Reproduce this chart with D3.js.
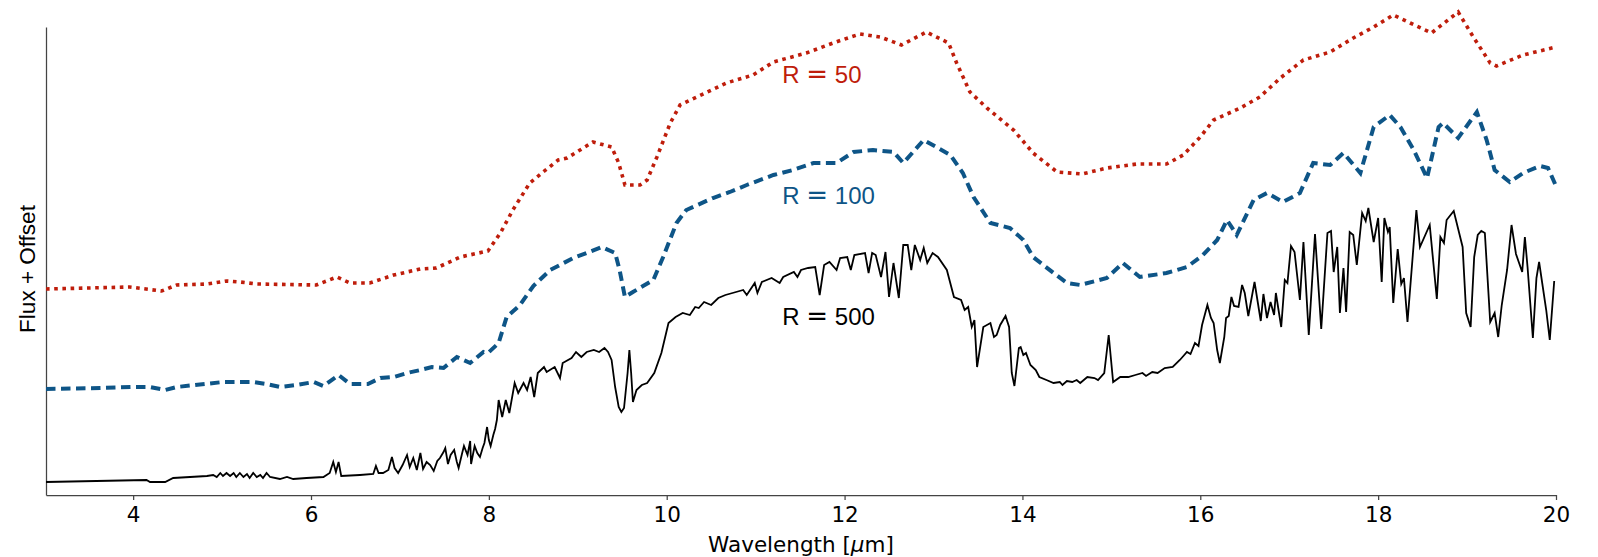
<!DOCTYPE html>
<html>
<head>
<meta charset="utf-8">
<script src="https://cdn.jsdelivr.net/npm/d3@7"></script>
<style>
  html, body { margin: 0; padding: 0; background: #ffffff; }
  svg { display: block; }
</style>
</head>
<body>
<svg id="chart" width="1598" height="557"></svg>
<script>
// ---------------- DATA ----------------
const xTicks = [4, 6, 8, 10, 12, 14, 16, 18, 20];
const xDomain = [3.02, 20];
const yDomain = [0, 4.68];

// R = 50 (red, dotted)
const wavelengthR50 = [3.02,3.96,4.32,4.49,4.83,5.05,5.20,5.39,6.06,6.29,6.44,6.66,6.93,7.23,7.41,7.68,7.99,8.13,8.27,8.46,8.61,8.78,8.88,9.17,9.38,9.46,9.53,9.70,9.78,9.89,10.04,10.15,10.34,10.67,10.97,11.20,11.57,11.87,12.17,12.40,12.64,12.92,13.17,13.26,13.41,13.60,13.90,14.12,14.39,14.67,14.95,15.29,15.62,15.81,16.00,16.15,16.45,16.67,16.90,17.16,17.46,17.72,17.95,18.17,18.36,18.60,18.90,19.07,19.26,19.33,19.63,20.00];
const fluxR50 = [2.06,2.08,2.04,2.10,2.11,2.14,2.13,2.11,2.10,2.18,2.12,2.12,2.20,2.26,2.27,2.38,2.44,2.62,2.85,3.12,3.23,3.35,3.37,3.53,3.48,3.32,3.10,3.10,3.15,3.38,3.72,3.90,3.98,4.12,4.20,4.33,4.42,4.52,4.61,4.58,4.50,4.63,4.52,4.32,4.03,3.87,3.65,3.42,3.23,3.21,3.27,3.31,3.31,3.40,3.58,3.75,3.87,3.98,4.17,4.35,4.43,4.57,4.68,4.80,4.72,4.62,4.83,4.58,4.32,4.29,4.40,4.48];

// R = 100 (blue, dashed)
const wavelengthR100 = [3.02,3.63,4.00,4.19,4.36,4.49,5.01,5.35,5.50,5.65,5.84,6.03,6.14,6.31,6.44,6.64,6.78,6.93,7.08,7.23,7.36,7.49,7.64,7.79,7.94,7.99,8.11,8.20,8.35,8.50,8.69,8.95,9.10,9.27,9.42,9.47,9.53,9.62,9.85,9.96,10.11,10.22,10.52,10.71,10.90,11.20,11.42,11.65,11.91,12.10,12.32,12.55,12.66,12.89,13.19,13.33,13.45,13.64,13.86,14.01,14.12,14.35,14.50,14.65,14.95,15.13,15.32,15.62,15.85,16.03,16.19,16.30,16.41,16.60,16.75,16.93,17.12,17.27,17.46,17.61,17.80,17.95,18.13,18.25,18.40,18.55,18.68,18.73,18.90,19.11,19.22,19.31,19.48,19.63,19.82,19.91,20.00];
const fluxR100 = [1.06,1.07,1.08,1.08,1.05,1.08,1.13,1.13,1.11,1.08,1.10,1.13,1.09,1.20,1.11,1.11,1.17,1.18,1.22,1.25,1.28,1.27,1.38,1.32,1.43,1.42,1.52,1.78,1.90,2.09,2.25,2.37,2.42,2.48,2.42,2.25,1.98,2.03,2.15,2.38,2.72,2.85,2.97,3.03,3.10,3.20,3.25,3.32,3.32,3.43,3.45,3.43,3.32,3.55,3.40,3.22,2.98,2.72,2.67,2.55,2.38,2.22,2.12,2.10,2.17,2.32,2.18,2.22,2.28,2.40,2.55,2.75,2.60,2.95,3.02,2.93,3.02,3.32,3.30,3.42,3.22,3.68,3.80,3.68,3.45,3.17,3.68,3.72,3.57,3.83,3.55,3.25,3.13,3.22,3.29,3.27,3.09];

// R = 500 (black, solid): [wavelength, flux]
const spectrumR500 = [
[3.02,.13],[4.15,.15],[4.19,.13],[4.36,.13],[4.45,.17],[4.83,.19],[4.90,.20],[4.94,.18],[4.98,.22],[5.01,.19],
[5.05,.22],[5.09,.19],[5.13,.22],[5.16,.18],[5.20,.22],[5.24,.18],[5.28,.21],[5.31,.17],[5.35,.22],[5.39,.18],
[5.43,.20],[5.46,.17],[5.50,.22],[5.54,.18],[5.65,.16],[5.73,.18],[5.80,.16],[5.95,.17],[6.14,.18],[6.21,.22],
[6.25,.33],[6.28,.23],[6.31,.33],[6.34,.19],[6.55,.20],[6.70,.21],[6.73,.29],[6.76,.22],[6.81,.22],[6.87,.25],
[6.91,.38],[6.94,.27],[6.98,.22],[7.03,.30],[7.08,.40],[7.11,.28],[7.15,.37],[7.19,.25],[7.23,.42],[7.26,.26],
[7.30,.33],[7.34,.30],[7.38,.24],[7.42,.34],[7.45,.37],[7.49,.43],[7.51,.47],[7.54,.31],[7.57,.40],[7.61,.45],
[7.64,.33],[7.66,.27],[7.70,.42],[7.72,.49],[7.76,.40],[7.79,.54],[7.80,.31],[7.84,.49],[7.87,.42],[7.90,.38],
[7.93,.47],[7.95,.52],[7.98,.68],[8.00,.55],[8.02,.49],[8.05,.60],[8.07,.66],
[8.09,.75],[8.11,.95],[8.15,.78],[8.19,.95],[8.23,.82],[8.29,1.12],[8.33,1.02],[8.39,1.12],
[8.43,1.05],[8.47,1.18],[8.51,.98],[8.55,1.22],[8.62,1.28],[8.65,1.23],[8.74,1.28],[8.80,1.17],[8.83,1.32],[8.93,1.37],
[8.98,1.43],[9.04,1.38],[9.10,1.43],[9.18,1.45],[9.24,1.43],[9.30,1.47],[9.34,1.43],[9.38,1.35],[9.42,1.08],[9.46,.88],
[9.49,.83],[9.52,.87],[9.56,1.22],[9.58,1.45],[9.60,1.22],[9.62,.93],[9.66,1.05],[9.72,1.10],[9.78,1.12],[9.86,1.22],
[9.94,1.42],[10.02,1.72],[10.10,1.78],[10.18,1.82],[10.26,1.80],[10.32,1.88],[10.36,1.87],[10.42,1.93],[10.50,1.90],[10.58,1.97],
[10.66,2.00],[10.78,2.03],[10.86,2.05],[10.90,2.00],[10.99,2.12],[11.02,2.02],[11.07,2.13],[11.18,2.17],[11.27,2.12],[11.31,2.18],
[11.43,2.23],[11.47,2.18],[11.51,2.25],[11.59,2.27],[11.67,2.28],[11.72,2.00],[11.77,2.30],[11.83,2.33],[11.91,2.25],[11.95,2.37],
[12.03,2.38],[12.07,2.25],[12.11,2.40],[12.23,2.42],[12.27,2.22],[12.31,2.42],[12.35,2.40],[12.41,2.18],[12.46,2.43],[12.50,1.98],
[12.55,2.32],[12.61,1.97],[12.66,2.50],[12.71,2.50],[12.75,2.25],[12.79,2.50],[12.85,2.35],[12.89,2.47],[12.93,2.32],[12.99,2.42],
[13.05,2.38],[13.15,2.25],[13.23,1.98],[13.31,1.95],[13.35,1.85],[13.39,1.88],[13.43,1.68],[13.46,1.75],[13.49,1.28],[13.56,1.68],
[13.64,1.72],[13.68,1.58],[13.71,1.60],[13.75,1.70],[13.81,1.79],[13.85,1.68],[13.88,1.22],[13.91,1.09],[13.96,1.47],[13.98,1.48],
[14.01,1.40],[14.04,1.42],[14.09,1.30],[14.15,1.25],[14.19,1.18],[14.27,1.15],[14.35,1.12],[14.42,1.13],[14.45,1.10],[14.50,1.14],
[14.56,1.13],[14.61,1.15],[14.65,1.12],[14.73,1.18],[14.81,1.17],[14.85,1.15],[14.92,1.22],[14.97,1.60],[15.02,1.13],[15.10,1.18],
[15.19,1.18],[15.27,1.20],[15.35,1.22],[15.39,1.19],[15.46,1.23],[15.52,1.22],[15.60,1.27],[15.69,1.28],[15.77,1.35],[15.81,1.39],
[15.85,1.43],[15.89,1.41],[15.94,1.52],[15.98,1.49],[16.02,1.70],[16.08,1.90],[16.12,1.77],[16.15,1.72],[16.19,1.45],[16.22,1.32],
[16.27,1.58],[16.29,1.77],[16.32,1.79],[16.35,1.98],[16.38,1.89],[16.43,1.88],[16.47,2.10],[16.50,2.02],[16.54,1.79],[16.61,2.13],
[16.68,1.74],[16.71,2.01],[16.75,1.77],[16.79,1.93],[16.83,1.80],[16.85,2.02],[16.91,1.68],[16.95,2.15],[16.98,2.12],[17.02,2.49],
[17.06,2.43],[17.12,1.95],[17.16,2.53],[17.22,1.60],[17.29,2.61],[17.36,1.66],[17.43,2.62],[17.47,2.64],[17.50,2.23],[17.54,2.48],
[17.57,1.82],[17.61,2.27],[17.64,1.83],[17.68,2.63],[17.72,2.60],[17.76,2.30],[17.82,2.82],[17.86,2.74],[17.89,2.87],[17.95,2.53],
[18.00,2.77],[18.04,2.13],[18.07,2.77],[18.11,2.63],[18.13,2.68],[18.17,1.92],[18.22,2.46],[18.26,2.11],[18.29,2.17],[18.33,1.73],
[18.43,2.85],[18.47,2.48],[18.58,2.70],[18.66,1.96],[18.70,2.58],[18.74,2.52],[18.77,2.75],[18.85,2.84],[18.95,2.48],[18.99,1.82],
[19.04,1.68],[19.08,2.38],[19.12,2.60],[19.16,2.64],[19.20,2.62],[19.26,1.73],[19.31,1.82],[19.35,1.58],[19.39,1.90],[19.45,2.25],
[19.50,2.70],[19.55,2.41],[19.62,2.23],[19.65,2.58],[19.68,2.28],[19.74,1.57],[19.78,2.17],[19.81,2.33],[19.89,1.85],[19.93,1.55],
[19.98,2.14]
];

// Series labels: resolving power, anchor wavelength, anchor flux (baseline)
const labelNumbers = ["50", "100", "500"];
const labelWavelength = [11.30, 11.30, 11.30];
const labelFlux = [4.12, 2.91, 1.70];
const seriesColors = ["#bf1d0b", "#0e5587", "#000000"];

// ---------------- CHART ----------------
const svg = d3.select("#chart");
const x = d3.scaleLinear().domain(xDomain).range([46, 1556]);
const y = d3.scaleLinear().domain(yDomain).range([495, 27]);

const line = d3.line().x(d => x(d[0])).y(d => y(d[1]));

const r50 = d3.zip(wavelengthR50, fluxR50);
const r100 = d3.zip(wavelengthR100, fluxR100);

// Axes (left and bottom spines only)
const xAxis = d3.axisBottom(x).tickValues(xTicks).tickFormat(d3.format("d"))
  .tickSize(5).tickSizeOuter(0).tickPadding(7);
const gx = svg.append("g").attr("transform", `translate(0,${y(yDomain[0])})`).call(xAxis);
gx.select(".domain").attr("stroke", "#444").attr("stroke-width", 1.25);
gx.selectAll(".tick line").attr("stroke", "#444").attr("stroke-width", 1.25);
gx.selectAll(".tick text").attr("fill", "#000").attr("font-family", "DejaVu Sans")
  .attr("font-size", "21.5px");

const yAxis = d3.axisLeft(y).tickValues([]).tickSizeOuter(0);
const gy = svg.append("g").attr("transform", `translate(${x(xDomain[0])},0)`).call(yAxis);
gy.select(".domain").attr("stroke", "#444").attr("stroke-width", 1.25);

// Lines
svg.append("path").datum(spectrumR500).attr("d", line)
  .attr("fill", "none").attr("stroke", seriesColors[2]).attr("stroke-width", 1.8)
  .attr("stroke-linejoin", "miter");

svg.append("path").datum(r100).attr("d", line)
  .attr("fill", "none").attr("stroke", seriesColors[1]).attr("stroke-width", 4)
  .attr("stroke-dasharray", "9.5,5.5");

svg.append("path").datum(r50).attr("d", line)
  .attr("fill", "none").attr("stroke", seriesColors[0]).attr("stroke-width", 3.6)
  .attr("stroke-dasharray", "3.6,4.6");

// Series labels
labelNumbers.forEach((num, i) => {
  const t = svg.append("text")
    .attr("x", x(labelWavelength[i]))
    .attr("y", y(labelFlux[i]))
    .attr("fill", seriesColors[i])
    .attr("font-family", "Liberation Sans, Arial, sans-serif")
    .attr("font-size", "24px");
  t.append("tspan").text("R ");
  t.append("tspan").attr("font-family", "DejaVu Sans").attr("font-size", "26px").text("=");
  t.append("tspan").text(" " + num);
});

// Axis labels
const xl = svg.append("text")
  .attr("x", (x.range()[0] + x.range()[1]) / 2)
  .attr("y", 551.5)
  .attr("text-anchor", "middle")
  .attr("font-family", "DejaVu Sans")
  .attr("font-size", "21.5px")
  .attr("fill", "#000");
xl.append("tspan").text("Wavelength [");
xl.append("tspan").attr("font-style", "italic").text("μ");
xl.append("tspan").text("m]");

svg.append("text")
  .attr("transform", "translate(35,269) rotate(-90)")
  .attr("text-anchor", "middle")
  .attr("font-family", "Liberation Sans, Arial, sans-serif")
  .attr("font-size", "22.5px")
  .attr("fill", "#000")
  .text("Flux + Offset");
</script>
</body>
</html>
